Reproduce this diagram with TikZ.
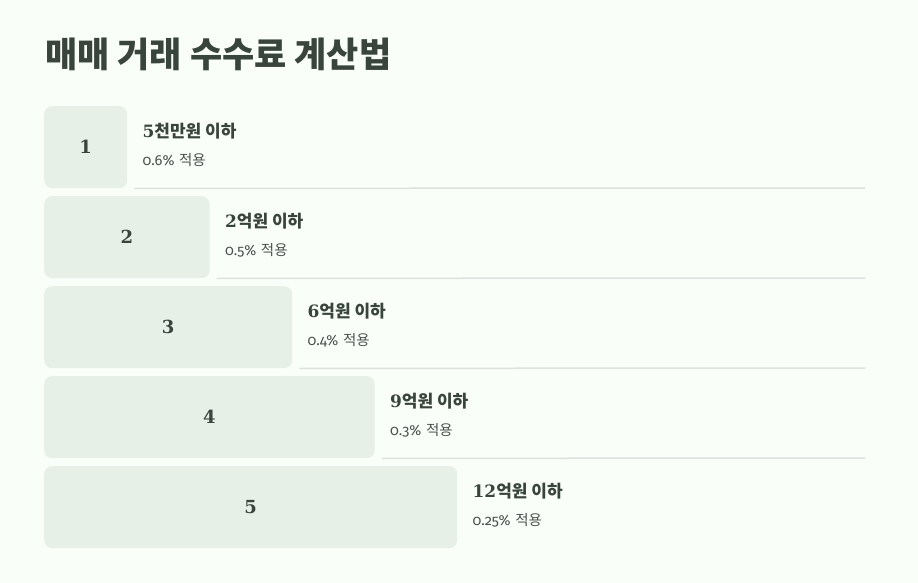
\documentclass[tikz,border=0pt]{standalone}
\usepackage{fontspec}
\setmainfont{DejaVu Serif}
\newfontfamily\krfont{Noto Sans CJK KR}
\newfontfamily\ratefont[Numbers = OldStyle]{Fira Sans}
\definecolor{pagebg}{HTML}{FAFEF9}
\definecolor{boxfill}{HTML}{E7F0E7}
\definecolor{inkdark}{HTML}{39443D}
\definecolor{inksoft}{HTML}{4A504C}
\definecolor{rulegray}{HTML}{DEE2DE}

\tikzset{
  numbox/.style = {fill = boxfill, rounded corners = 8pt, inner sep = 0,
    text = inkdark, font = \fontsize{18}{22}\selectfont\bfseries},
  headtext/.style = {anchor = base west, inner sep = 0, text = inkdark,
    font = \fontsize{17}{20}\selectfont\bfseries},
  ratetext/.style = {anchor = base west, inner sep = 0, text = inksoft,
    font = \fontsize{14.5}{17}\selectfont},
  divider/.style = {draw = rulegray, line width = 1.5pt}
}

\begin{document}
\begin{tikzpicture}[x = 1pt, y = -1pt]
  \fill[pagebg] (0, 0) rectangle (918, 583);
  \useasboundingbox (0, 0) rectangle (918, 583);

  \node[anchor = base west, inner sep = 0, text = inkdark,
  font = \krfont\fontsize{35}{40}\selectfont\bfseries] (title) at (45, 68)
  {매매 거래 수수료 계산법};

  \foreach \i/\num/\unit/\rate in {1/5/천만원/0.6, 2/2/억원/0.5, 3/6/억원/0.4,
    4/9/억원/0.3, 5/12/억원/0.25}{
    \pgfmathsetmacro{\rowY}{106 + 90*(\i - 1)}
    \pgfmathsetmacro{\boxW}{82.5*\i + 0.5}
    \node[numbox, minimum width = \boxW pt, minimum height = 82pt,
    anchor = north west] (box\i) at (44, \rowY) {\i};
    \node[headtext] (amt\i) at ([xshift = 15pt, yshift = 10pt]box\i.east)
    {\num{\krfont\bfseries\unit{} 이하}};
    \node[ratetext] (rate\i) at ([xshift = 15pt, yshift = -18pt]box\i.east)
    {{\ratefont\rate\%} {\krfont 적용}};
  }

  \foreach \i in {1, ..., 4}{
    \pgfmathsetmacro{\rowY}{188 + 90*(\i - 1)}
    \coordinate (end\i) at (865, \rowY);
    \draw[divider] ([xshift = 7pt]box\i.south east) -- (end\i);
  }
\end{tikzpicture}
\end{document}
